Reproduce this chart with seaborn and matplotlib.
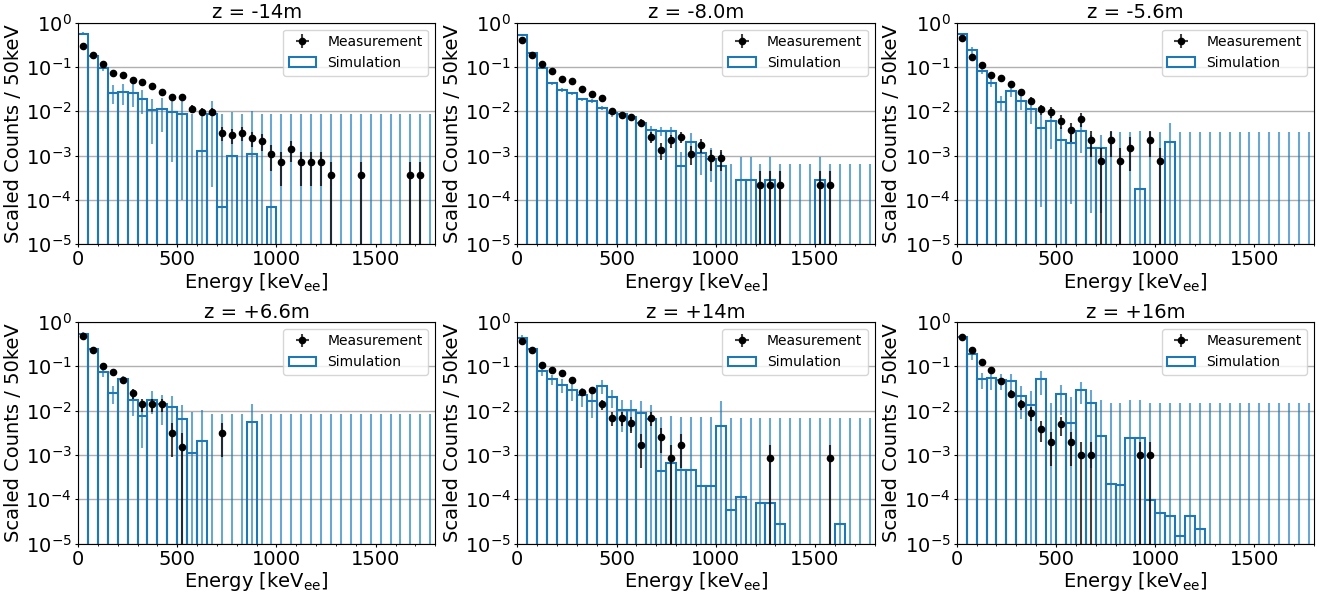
import numpy as np
import pandas as pd
import seaborn as sns
import matplotlib.pyplot as plt
from matplotlib.ticker import MultipleLocator, NullLocator, LogLocator

# 50 keV bins from 0 to 1800 keV
edges = np.arange(0, 1801, 50)
centers = edges[:-1] + 25

titles = ['z = -14m', 'z = -8.0m', 'z = -5.6m', 'z = +6.6m', 'z = +14m', 'z = +16m']

# measurement: raw counts per bin and the scale of one count
meas_scale = [0.00036, 0.000222, 0.00075, 0.00154, 0.000855, 0.00098]
meas_counts = [
    [811, 517, 325, 207, 183, 143, 127, 103, 74, 57, 57, 32, 27, 27, 9, 8, 9, 7,
     6, 3, 2, 4, 2, 2, 2, 1, 0, 0, 1, 0, 0, 0, 0, 1, 1, 0],
    [1797, 824, 527, 358, 236, 213, 145, 110, 90, 45, 37, 33, 25, 12, 6, 10, 12, 5,
     8, 4, 4, 0, 0, 0, 1, 1, 1, 0, 0, 0, 1, 1, 0, 0, 0, 0],
    [611, 228, 148, 88, 74, 54, 37, 23, 15, 13, 8, 5, 9, 3, 1, 3, 1, 2,
     0, 3, 1, 0, 0, 0, 0, 0, 0, 0, 0, 0, 0, 0, 0, 0, 0, 0],
    [308, 149, 64, 49, 32, 16, 9, 9, 9, 2, 1, 0, 0, 0, 2, 0, 0, 0,
     0, 0, 0, 0, 0, 0, 0, 0, 0, 0, 0, 0, 0, 0, 0, 0, 0, 0],
    [436, 264, 127, 98, 80, 58, 30, 34, 16, 8, 8, 6, 2, 8, 3, 1, 2, 0,
     0, 0, 0, 0, 0, 0, 0, 1, 0, 0, 0, 0, 0, 1, 0, 0, 0, 0],
    [468, 238, 126, 84, 48, 24, 14, 9, 4, 2, 5, 2, 1, 1, 0, 0, 0, 0,
     1, 1, 0, 0, 0, 0, 0, 0, 0, 0, 0, 0, 0, 0, 0, 0, 0, 0],
]

# simulation: scaled counts per bin
sim = [
    [0.565, 0.177, 0.0948, 0.0263, 0.0277, 0.0263, 0.0192, 0.0105, 0.0114, 0.0095,
     0.0087, 0, 0.00127, 0.0085, 7.1e-5, 0.00098, 0, 0.00108, 0, 7.1e-5,
     0, 0, 0, 0, 0, 0, 0, 0, 0, 0, 0, 0, 0, 0, 0, 0],
    [0.526, 0.203, 0.0946, 0.0426, 0.0302, 0.0258, 0.0185, 0.017, 0.012, 0.00895,
     0.00865, 0.00727, 0.0055, 0.00376, 0.00363, 0.0035, 0.000578, 0.00205, 0.00116, 0.00085,
     0.000578, 0, 0.000279, 0.000275, 0, 0.000279, 0, 0, 0, 0, 0.00028, 0, 0, 0, 0, 0],
    [0.555, 0.237, 0.081, 0.0441, 0.0159, 0.0291, 0.0167, 0.0112, 0.00417, 0.0059,
     0.0022, 0.00188, 0.00363, 0.00145, 0.00145, 0, 0, 0, 0.000172, 0,
     0, 0.00198, 0, 0, 0, 0, 0, 0, 0, 0, 0, 0, 0, 0, 0, 0],
    [0.545, 0.238, 0.0758, 0.0251, 0.0509, 0.0177, 0.00745, 0.0177, 0.0137, 0.0117,
     0.00627, 0.00111, 0.00207, 0, 0, 0, 0, 0.00537, 0, 0,
     0, 0, 0, 0, 0, 0, 0, 0, 0, 0, 0, 0, 0, 0, 0, 0],
    [0.443, 0.242, 0.0785, 0.0509, 0.0373, 0.0292, 0.0218, 0.0168, 0.0366, 0.02,
     0.0102, 0.0105, 0.009, 0.00627, 0.000428, 0.000671, 0.000451, 0.000467, 0.0002, 0.0002,
     0.00436, 5.65e-5, 0.000111, 0, 8.4e-5, 8.4e-5, 2.8e-5, 0, 0, 0, 0, 0, 2.8e-5, 0, 0, 0],
    [0.45, 0.187, 0.0509, 0.0546, 0.0483, 0.0459, 0.0207, 0.0132, 0.0509, 0,
     0.023, 0.00527, 0.0288, 0.0149, 0.00264, 0.000218, 0.00021, 0.00246, 0.00246, 9.7e-5,
     4.9e-5, 4.2e-5, 1.44e-5, 4.2e-5, 2.1e-5, 0, 0, 0, 0, 0, 0, 0, 0, 0, 0, 0],
]

sim_err = [
    [0.04, 0.015, 0.012, 0.012, 0.014, 0.014, 0.0105, 0.0087, 0.008, 0.0088,
     0.0086, 0.0088, 0.0088, 0.0083, 0.0088, 0.0088, 0.0088, 0.0088, 0.0088, 0.0088,
     0.0088, 0.0088, 0.0088, 0.0088, 0.0088, 0.0088, 0.0088, 0.0088, 0.0088, 0.0088,
     0.0088, 0.0088, 0.0088, 0.0088, 0.0088, 0.0088],
    [0.02, 0.008, 0.005, 0.003, 0.0025, 0.002, 0.0015, 0.0015, 0.0012, 0.0015,
     0.0012, 0.001, 0.0009, 0.0008, 0.0008, 0.0008, 0.0006, 0.0012, 0.0008, 0.0006,
     0.0006, 0.00063, 0.00063, 0.00063, 0.00063, 0.00063, 0.00063, 0.00063, 0.00063, 0.00063,
     0.00063, 0.00063, 0.00063, 0.00063, 0.00063, 0.00063],
    [0.03, 0.04, 0.012, 0.008, 0.006, 0.008, 0.006, 0.006, 0.0041, 0.0045,
     0.0022, 0.0018, 0.0025, 0.0014, 0.0014, 0.00345, 0.00345, 0.00345, 0.00345, 0.00345,
     0.00345, 0.0034, 0.00345, 0.00345, 0.00345, 0.00345, 0.00345, 0.00345, 0.00345, 0.00345,
     0.00345, 0.00345, 0.00345, 0.00345, 0.00345, 0.00345],
    [0.03, 0.02, 0.02, 0.011, 0.01, 0.01, 0.006, 0.0095, 0.009, 0.009,
     0.0068, 0.0083, 0.0083, 0.0083, 0.0083, 0.0083, 0.0083, 0.0083, 0.0083, 0.0083,
     0.0083, 0.0083, 0.0083, 0.0083, 0.0083, 0.0083, 0.0083, 0.0083, 0.0083, 0.0083,
     0.0083, 0.0083, 0.0083, 0.0083, 0.0083, 0.0083],
    [0.05, 0.02, 0.02, 0.013, 0.013, 0.013, 0.01, 0.01, 0.013, 0.0085,
     0.007, 0.007, 0.007, 0.0068, 0.0068, 0.0068, 0.0068, 0.0068, 0.0068, 0.0068,
     0.012, 0.0068, 0.0068, 0.0068, 0.0068, 0.0068, 0.0068, 0.0068, 0.0068, 0.0068,
     0.0068, 0.0068, 0.0068, 0.0068, 0.0068, 0.0068],
    [0.05, 0.05, 0.02, 0.025, 0.02, 0.02, 0.0143, 0.0144, 0.028, 0.0144,
     0.015, 0.0144, 0.015, 0.0144, 0.0144, 0.0144, 0.0144, 0.0144, 0.0144, 0.0144,
     0.0144, 0.0144, 0.0144, 0.0144, 0.0144, 0.0144, 0.0144, 0.0144, 0.0144, 0.0144,
     0.0144, 0.0144, 0.0144, 0.0144, 0.0144, 0.0144],
]

fig, axes = plt.subplots(2, 3, figsize=(13.31, 5.94), dpi=100)
plt.subplots_adjust(left=0.0586, right=0.9872, bottom=0.085, top=0.962,
                    wspace=0.23, hspace=0.35)

for i, ax in enumerate(axes.flat):
    df = pd.DataFrame({'energy': centers, 'w': sim[i]})

    # simulation histogram
    sns.histplot(data=df, x='energy', weights='w', binwidth=50, binrange=(0, 1800),
                 ax=ax, fill=False, element='bars', color='C0', linewidth=1.5,
                 label='Simulation')
    ax.errorbar(centers, sim[i], yerr=sim_err[i], fmt='none', ecolor='C0',
                elinewidth=1.5, alpha=0.65, zorder=3)

    # measurement points with poisson errors
    counts = np.array(meas_counts[i], dtype=float)
    m = counts > 0
    vals = counts * meas_scale[i]
    errs = np.sqrt(counts) * meas_scale[i]
    eb = ax.errorbar(centers[m], vals[m], yerr=errs[m], xerr=0, fmt='o', color='k',
                     ms=4.5, elinewidth=1.5, label='Measurement', zorder=5)
    for lc in eb[2]:
        lc.set_alpha(0.75)

    ax.set_yscale('log')
    ax.set_xlim(0, 1800)
    ax.set_ylim(1e-5, 1)
    ax.xaxis.set_major_locator(MultipleLocator(500))
    ax.xaxis.set_minor_locator(MultipleLocator(100))
    ax.yaxis.set_major_locator(LogLocator(base=10, numticks=12))
    ax.yaxis.set_minor_locator(NullLocator())
    ax.grid(axis='y', which='major', color='#b0b0b0', linewidth=1)
    ax.set_axisbelow(True)
    ax.tick_params(labelsize=14, length=2.5, pad=2)
    ax.tick_params(which='minor', length=1.5)
    ax.set_title(titles[i], fontsize=14, pad=3)
    ax.set_xlabel('Energy [keV$_{\\rm ee}$]', fontsize=14, labelpad=1)
    ax.set_ylabel('Scaled Counts / 50keV', fontsize=14, labelpad=2)

    h, l = ax.get_legend_handles_labels()
    order = [l.index('Measurement'), l.index('Simulation')]
    ax.legend([h[k] for k in order], [l[k] for k in order], loc='upper right',
              fontsize=10)

plt.savefig('out.png', dpi=100)
